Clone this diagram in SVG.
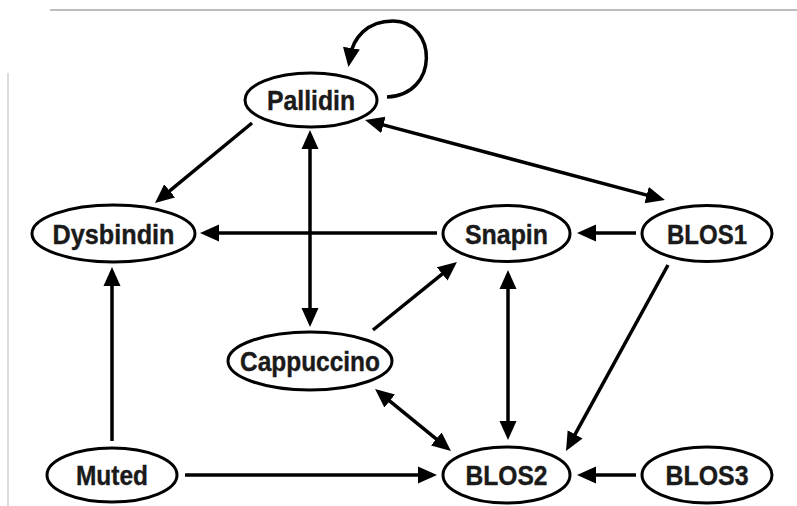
<svg xmlns="http://www.w3.org/2000/svg" width="797" height="506" viewBox="0 0 797 506">
<style>
.node ellipse{fill:#fff;stroke:#000;stroke-width:3}
.node text{font-family:"Liberation Sans",Arial,Helvetica,sans-serif;font-weight:bold;font-size:28px;fill:#1a1a1a;text-anchor:middle;stroke:#1a1a1a;stroke-width:0.4}
.edge{stroke:#000;stroke-width:3.5;fill:none;marker-end:url(#ah)}
.both{marker-start:url(#ah)}
</style>
<defs>
<marker id="ah" markerUnits="userSpaceOnUse" markerWidth="20" markerHeight="18" viewBox="0 0 20 18" refX="9" refY="9" orient="auto-start-reverse">
<path d="M0,0.5 L19,9 L0,17.5 z" fill="#000"/>
</marker>
</defs>
<rect width="797" height="506" fill="#fff"/>
<line x1="50" y1="10" x2="797" y2="10" stroke="#bdbdbd" stroke-width="2"/>
<line x1="8" y1="73" x2="8" y2="506" stroke="#cfcfcf" stroke-width="1.5"/>
<g id="connectors">
<path class="edge" d="M387,97 C440,95 437,21 393,21 C367,21 353,38 350,57"/>
<line class="edge" x1="252" y1="123" x2="162.7" y2="196.6"/>
<line class="edge both" x1="310" y1="140" x2="310" y2="317"/>
<line class="edge both" x1="374.7" y1="122.6" x2="655.3" y2="197.4"/>
<line class="edge" x1="437" y1="233" x2="210" y2="233"/>
<line class="edge" x1="636" y1="233" x2="587" y2="233"/>
<line class="edge" x1="373" y1="330" x2="449.2" y2="268.3"/>
<line class="edge both" x1="508" y1="280" x2="508" y2="430"/>
<line class="edge" x1="668" y1="265" x2="570.8" y2="442.2"/>
<line class="edge both" x1="382.8" y1="395.3" x2="443.2" y2="444.7"/>
<line class="edge" x1="112" y1="441" x2="112" y2="277"/>
<line class="edge" x1="185" y1="475" x2="427" y2="475"/>
<line class="edge" x1="636" y1="475" x2="587" y2="475"/>
</g>
<g id="pallidin" class="node"><ellipse cx="311" cy="100" rx="66" ry="27"/><text x="311" y="110" textLength="88" lengthAdjust="spacingAndGlyphs">Pallidin</text></g>
<g id="dysbindin" class="node"><ellipse cx="113.5" cy="233.5" rx="81.5" ry="28.5"/><text x="113.5" y="243.5" textLength="122" lengthAdjust="spacingAndGlyphs">Dysbindin</text></g>
<g id="snapin" class="node"><ellipse cx="506.5" cy="233.5" rx="63.5" ry="28"/><text x="506.5" y="243.5" textLength="83" lengthAdjust="spacingAndGlyphs">Snapin</text></g>
<g id="blos1" class="node"><ellipse cx="707" cy="233.5" rx="65" ry="28"/><text x="707" y="243.5" textLength="80" lengthAdjust="spacingAndGlyphs">BLOS1</text></g>
<g id="cappuccino" class="node"><ellipse cx="310" cy="361" rx="82" ry="29"/><text x="310" y="371" textLength="140" lengthAdjust="spacingAndGlyphs">Cappuccino</text></g>
<g id="muted" class="node"><ellipse cx="112" cy="475" rx="65" ry="27"/><text x="112" y="485" textLength="72" lengthAdjust="spacingAndGlyphs">Muted</text></g>
<g id="blos2" class="node"><ellipse cx="506.5" cy="475" rx="63.5" ry="28"/><text x="506.5" y="485" textLength="82" lengthAdjust="spacingAndGlyphs">BLOS2</text></g>
<g id="blos3" class="node"><ellipse cx="707" cy="475" rx="65" ry="28"/><text x="707" y="485" textLength="83" lengthAdjust="spacingAndGlyphs">BLOS3</text></g>
</svg>
